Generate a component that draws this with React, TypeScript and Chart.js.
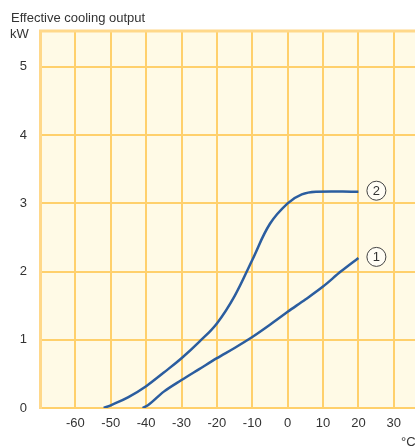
import { useEffect, useRef } from 'react';
import { Chart, registerables } from 'chart.js';

Chart.register(...registerables);

// Curve ① : effective cooling output (kW) vs temperature (°C)
const temps1 = [-41, -39.5, -35, -30, -25, -20, -15, -10, -5, 0, 5, 10, 15, 20];
const output1 = [0, 0.04, 0.24, 0.41, 0.57, 0.73, 0.88, 1.04, 1.22, 1.41, 1.59, 1.78, 2.0, 2.2];
// Curve ②
const temps2 = [-52, -50, -45, -40, -35, -30, -25, -20, -15, -10, -5, 0, 4, 8, 20];
const output2 = [0, 0.04, 0.16, 0.32, 0.52, 0.73, 0.97, 1.24, 1.64, 2.17, 2.7, 3.0, 3.13, 3.17, 3.17];
const curveLabels = ['1', '2'];
const xTickValues = [-60, -50, -40, -30, -20, -10, 0, 10, 20, 30];
const yTickValues = [0, 1, 2, 3, 4, 5];
const yTitle = 'Effective cooling output';
const yUnit = 'kW';
const xUnit = '°C';

const FONT = '"Liberation Sans", Arial, sans-serif';
const BG = '#FFFAE6';
const GRID = '#FFD06C';
const LINE = '#2B5D9F';
const TEXT = '#333333';

const framePlugin = {
  id: 'frame',
  beforeDraw(chart: any) {
    const { ctx, chartArea: a } = chart;
    ctx.save();
    ctx.fillStyle = BG;
    ctx.fillRect(a.left, a.top, a.right - a.left, a.bottom - a.top);
    ctx.restore();
  },
  beforeDatasetsDraw(chart: any) {
    const { ctx, chartArea: a } = chart;
    ctx.save();
    ctx.strokeStyle = '#FFD88A';
    ctx.lineWidth = 3;
    ctx.beginPath();
    ctx.moveTo(a.left + 0.5, a.bottom + 1);
    ctx.lineTo(a.left + 0.5, a.top + 1);
    ctx.lineTo(a.right + 2, a.top + 1);
    ctx.stroke();
    ctx.restore();
  },
  afterDatasetsDraw(chart: any) {
    const { ctx } = chart;
    ctx.save();
    chart.data.datasets.forEach((ds: any, i: number) => {
      const meta = chart.getDatasetMeta(i);
      const last = meta.data[meta.data.length - 1];
      if (!last) return;
      const cx = last.x + 18;
      const cy = last.y - 1;
      ctx.beginPath();
      ctx.arc(cx, cy, 9.5, 0, Math.PI * 2);
      ctx.fillStyle = '#FFFDF5';
      ctx.fill();
      ctx.strokeStyle = '#444';
      ctx.lineWidth = 1;
      ctx.stroke();
      ctx.fillStyle = TEXT;
      ctx.font = `13px ${FONT}`;
      ctx.textAlign = 'center';
      ctx.textBaseline = 'middle';
      ctx.fillText(curveLabels[i], cx, cy + 1);
    });
    ctx.restore();
  },
  afterDraw(chart: any) {
    const { ctx } = chart;
    ctx.save();
    ctx.fillStyle = TEXT;
    ctx.font = `13px ${FONT}`;
    ctx.textAlign = 'left';
    ctx.textBaseline = 'alphabetic';
    ctx.fillText(yTitle, 11, 22);
    ctx.fillText(yUnit, 10, 38);
    ctx.fillText(xUnit, 401, 446);
    ctx.restore();
  },
};

export default function App() {
  const ref = useRef<HTMLCanvasElement>(null);
  useEffect(() => {
    document.body.style.margin = '0';
    const canvas = ref.current;
    if (!canvas) return;
    const chart = new Chart(canvas, {
      type: 'line',
      data: {
        datasets: [
          {
            label: '1',
            data: temps1.map((x, i) => ({ x, y: output1[i] })),
            borderColor: LINE,
            borderWidth: 2.5,
            pointRadius: 0,
            cubicInterpolationMode: 'monotone',
            fill: false,
          },
          {
            label: '2',
            data: temps2.map((x, i) => ({ x, y: output2[i] })),
            borderColor: LINE,
            borderWidth: 2.5,
            pointRadius: 0,
            tension: 0.4,
            fill: false,
          },
        ],
      },
      options: {
        responsive: false,
        animation: false,
        devicePixelRatio: 1,
        layout: { padding: { top: 30, left: 0, right: 0, bottom: 0 } },
        plugins: { legend: { display: false }, tooltip: { enabled: false } },
        scales: {
          x: {
            type: 'linear',
            min: -70,
            max: 36,
            afterBuildTicks: (s: any) => {
              s.ticks = xTickValues.map((v) => ({ value: v }));
            },
            afterFit: (s: any) => {
              s.height = 39;
            },
            grid: { color: GRID, lineWidth: 2, drawTicks: false },
            border: { display: false },
            ticks: {
              color: TEXT,
              font: { family: FONT, size: 13 },
              padding: 8,
              maxRotation: 0,
              autoSkip: false,
            },
          },
          y: {
            type: 'linear',
            min: 0,
            max: 5.54,
            afterBuildTicks: (s: any) => {
              s.ticks = yTickValues.map((v) => ({ value: v }));
            },
            afterFit: (s: any) => {
              s.width = 40;
            },
            grid: { color: GRID, lineWidth: 2, drawTicks: false },
            border: { display: false },
            ticks: {
              color: TEXT,
              font: { family: FONT, size: 13 },
              padding: 13,
              autoSkip: false,
            },
          },
        },
      },
      plugins: [framePlugin],
    } as any);
    return () => chart.destroy();
  }, []);
  return (
    <div style={{ width: 415, height: 447 }}>
      <canvas ref={ref} width={415} height={447} style={{ display: 'block' }} />
    </div>
  );
}
